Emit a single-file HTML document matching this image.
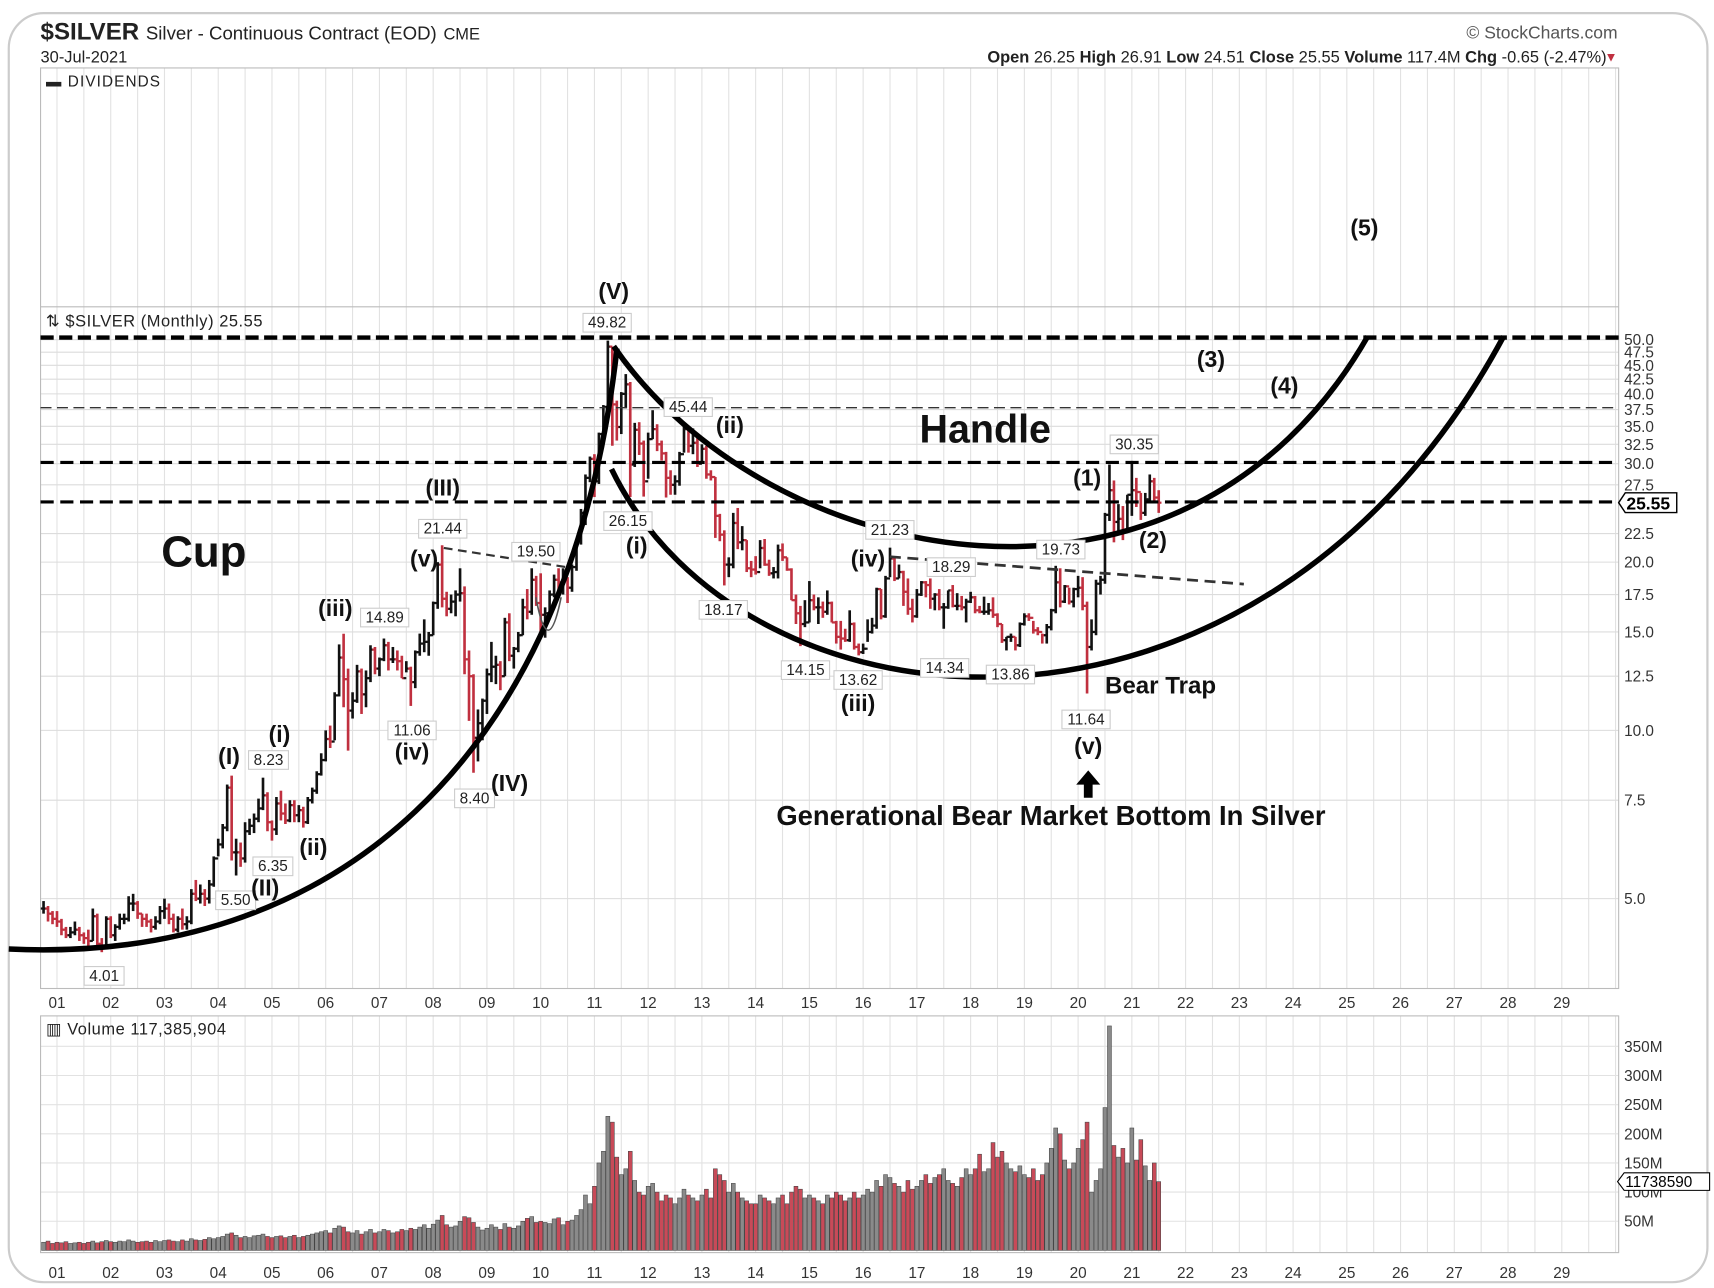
<!DOCTYPE html>
<html><head><meta charset="utf-8">
<style>
html,body{margin:0;padding:0;background:#fff;}
svg{display:block;font-family:"Liberation Sans","DejaVu Sans",sans-serif;}
</style></head>
<body>
<svg id="chart" width="1714" height="1288" viewBox="0 0 1564 1175.3" preserveAspectRatio="none" xmlns="http://www.w3.org/2000/svg">
<rect x="8" y="12" width="1550" height="1158" rx="32" fill="#fff" stroke="#ccc" stroke-width="2"/>
<g id="grid"></g>
<g id="panels">
 <rect x="37" y="62" width="1440" height="840" fill="none" stroke="#bbb" stroke-width="1"/>
 <line x1="37" y1="280" x2="1477" y2="280" stroke="#bbb"/>
 <rect x="37" y="927" width="1440" height="216" fill="none" stroke="#bbb" stroke-width="1"/>
</g>
<g>
 <text x="37" y="36" font-size="22" font-weight="bold" fill="#222">$SILVER <tspan font-size="17" font-weight="normal">Silver - Continuous Contract (EOD)</tspan> <tspan font-size="15" font-weight="normal">CME</tspan></text>
 <text x="37" y="57" font-size="15" fill="#222">30-Jul-2021</text>
 <text x="1476" y="35" font-size="16" fill="#555" text-anchor="end">© StockCharts.com</text>
 <text x="1466" y="57" font-size="15" fill="#222" text-anchor="end"><tspan font-weight="bold">Open</tspan> 26.25 <tspan font-weight="bold">High</tspan> 26.91 <tspan font-weight="bold">Low</tspan> 24.51 <tspan font-weight="bold">Close</tspan> 25.55 <tspan font-weight="bold">Volume</tspan> 117.4M <tspan font-weight="bold">Chg</tspan> -0.65 (-2.47%)</text>
 <text x="1476" y="56" font-size="12" fill="#c03040" text-anchor="end">▼</text>
 <text x="42" y="79" font-size="14" fill="#222" letter-spacing="1">▬ DIVIDENDS</text>
 <text x="42" y="298" font-size="15" fill="#222" letter-spacing="0.5">⇅ $SILVER (Monthly) 25.55</text>
 <text x="42" y="944" font-size="15" fill="#222" letter-spacing="0.5">▥ Volume 117,385,904</text>
</g>
<g id="vol"></g>
<g id="price"></g>
<g id="axes"></g>
<g id="annot">
 <line x1="37" y1="308" x2="1477" y2="308" stroke="#000" stroke-width="4" stroke-dasharray="12,5"/>
 <line x1="37" y1="372" x2="1477" y2="372" stroke="#333" stroke-width="1.3" stroke-dasharray="10,5"/>
 <line x1="37" y1="422" x2="1477" y2="422" stroke="#000" stroke-width="2.8" stroke-dasharray="12,6"/>
 <line x1="37" y1="458" x2="1477" y2="458" stroke="#000" stroke-width="2.8" stroke-dasharray="12,6"/>
 <line x1="405" y1="500" x2="520" y2="518" stroke="#333" stroke-width="2" stroke-dasharray="8,5"/>
 <line x1="812" y1="508" x2="1135" y2="533" stroke="#333" stroke-width="2.5" stroke-dasharray="10,6"/>
 <path d="M8,866 C300,880 520,700 563,318" fill="none" stroke="#000" stroke-width="5"/>
 <path d="M560,316 C700,520 1080,600 1248,307" fill="none" stroke="#000" stroke-width="5"/>
 <path d="M558,428 C680,680 1150,720 1372,307" fill="none" stroke="#000" stroke-width="5"/>
 <path d="M489,545 Q500,605 512,545" fill="none" stroke="#555" stroke-width="1.5"/>
 <path d="M993,703 L1004,716 L997,716 L997,728 L989,728 L989,716 L982,716 Z" fill="#000"/>
</g>
<script>
// ---- data (monthly, Oct 2000 .. Jul 2021) ----
const startYear = 2000.75;
const closes = [4.80,4.70,4.60,
4.55,4.40,4.30,4.35,4.40,4.30,4.25,4.20,4.65,4.15,4.10,4.60,
4.30,4.45,4.60,4.60,4.90,4.90,4.70,4.60,4.55,4.45,4.55,4.75,
4.80,4.60,4.40,4.60,4.50,4.55,5.10,5.00,5.10,5.00,5.30,5.90,
6.25,6.70,7.90,6.05,6.05,5.90,6.60,6.75,6.95,7.25,7.65,6.85,
6.65,7.40,7.10,6.90,7.35,7.05,7.20,6.85,7.50,7.80,8.35,8.85,
9.65,9.55,11.55,13.50,12.35,10.85,11.30,12.75,11.60,12.40,13.95,12.90,
13.40,14.20,13.40,13.40,13.30,12.40,12.90,12.20,13.80,14.30,14.40,14.80,
16.90,19.80,17.20,16.50,17.00,17.50,17.60,13.40,12.50,9.70,10.30,11.30,
12.60,13.00,13.10,12.50,15.60,13.60,14.00,14.80,16.60,16.30,18.60,16.90,
16.10,16.20,17.50,18.60,18.40,18.70,18.00,19.60,21.80,24.50,28.30,30.60,
27.90,33.90,37.90,48.60,38.30,34.90,40.00,41.60,29.90,34.50,32.60,27.90,
33.20,34.60,32.50,31.30,28.30,27.50,27.90,31.20,34.60,32.30,32.70,30.00,
31.90,28.70,28.40,24.20,22.40,19.80,19.80,23.50,21.70,21.90,19.50,19.40,
19.20,21.20,19.80,19.10,19.20,21.00,20.40,19.40,17.10,16.20,15.50,15.60,
17.10,16.60,16.60,16.30,16.90,15.60,14.70,14.60,14.50,15.50,14.10,13.80,
14.00,15.00,15.40,17.90,16.00,18.70,20.30,18.70,19.20,17.70,16.50,16.00,
17.50,18.40,18.20,17.20,17.50,16.60,16.60,17.80,16.70,16.70,16.60,17.00,
17.30,16.40,16.30,16.30,16.40,16.10,15.50,14.50,14.70,14.70,14.20,15.50,
16.00,15.90,15.10,15.00,14.80,15.30,16.40,18.40,17.00,18.10,17.00,17.90,
18.00,16.70,14.10,15.00,18.30,18.60,24.30,26.90,23.60,23.90,22.60,26.40,
26.90,26.70,24.50,25.90,27.90,26.10,25.55];
const highs = [4.95,4.85,4.75,
4.75,4.60,4.45,4.45,4.55,4.45,4.35,4.40,4.80,4.70,4.25,4.65,
4.65,4.50,4.70,4.70,5.05,5.10,4.95,4.70,4.70,4.60,4.65,4.85,
5.00,4.90,4.70,4.65,4.80,4.65,5.20,5.40,5.30,5.20,5.40,5.95,
6.40,6.80,8.00,8.30,6.40,6.30,6.85,6.95,7.10,7.55,8.23,7.75,
6.90,7.60,7.80,7.40,7.50,7.50,7.35,7.30,7.60,7.90,8.45,9.10,
10.00,10.20,11.70,14.25,14.89,12.90,11.70,13.10,12.90,12.80,14.20,14.10,
13.50,14.60,14.40,14.10,13.90,13.60,13.30,13.00,13.90,14.90,15.80,15.00,
17.00,20.00,21.44,17.70,17.50,17.80,19.50,18.10,13.90,12.60,10.90,11.40,
12.90,14.40,13.60,13.30,15.90,16.20,14.10,15.00,17.20,17.90,19.50,18.90,
19.10,16.60,17.80,19.00,19.50,19.50,18.80,19.80,22.00,24.90,28.70,30.90,
31.20,34.10,38.20,49.82,48.60,38.90,40.30,43.40,42.00,35.50,35.60,33.00,
34.10,37.40,35.30,33.00,31.50,29.20,28.60,31.50,35.44,34.80,34.70,33.80,
32.50,32.30,29.20,28.40,24.40,22.80,20.40,24.50,25.00,23.20,21.90,20.10,
20.50,21.90,22.00,20.20,19.60,21.50,21.60,20.40,19.50,17.50,16.70,17.10,
18.50,17.50,17.30,17.00,17.80,17.00,15.70,15.70,15.20,16.40,15.60,14.30,
14.30,15.80,15.90,18.00,17.90,18.90,21.23,20.40,19.80,19.30,18.70,17.20,
17.90,18.50,18.50,18.70,17.60,17.90,16.90,17.80,18.20,17.60,17.40,17.20,
17.70,17.40,16.70,17.35,16.90,17.30,16.20,15.50,14.70,14.90,14.70,15.60,
16.20,16.20,15.70,15.30,14.90,15.50,16.50,19.70,19.50,18.20,18.00,18.00,
18.90,18.80,17.00,15.80,18.60,18.90,24.50,29.90,28.00,25.40,25.20,26.40,
30.35,28.30,26.60,26.60,28.70,28.30,26.90];
const lows = [4.70,4.55,4.50,
4.45,4.30,4.25,4.25,4.30,4.20,4.15,4.10,4.20,4.10,4.01,4.10,
4.25,4.20,4.40,4.50,4.55,4.75,4.60,4.45,4.45,4.35,4.40,4.50,
4.60,4.50,4.35,4.35,4.40,4.40,4.50,4.95,4.90,4.85,4.90,5.25,
5.95,6.15,6.60,5.85,5.50,5.70,5.80,6.50,6.55,6.85,7.20,6.60,
6.35,6.50,6.90,6.80,6.85,6.85,6.85,6.70,6.80,7.40,7.70,8.30,
8.80,9.30,9.60,11.50,11.00,9.20,10.50,11.20,10.70,11.00,12.20,12.60,
12.50,13.30,12.80,13.20,12.80,12.40,12.70,11.06,11.90,13.60,13.80,13.60,
14.80,16.50,16.60,16.00,16.20,16.00,17.00,12.60,10.40,8.40,8.80,9.60,
10.70,12.20,12.10,11.80,12.50,13.30,12.90,13.80,14.80,15.80,16.10,16.70,
14.80,14.65,16.20,17.30,17.30,17.50,16.90,17.70,19.30,21.50,23.30,27.80,
26.15,27.60,33.60,37.60,32.30,33.00,33.90,37.70,26.15,29.60,31.10,26.20,
28.20,33.20,31.60,30.40,26.10,26.40,26.40,27.40,31.40,31.40,31.20,29.60,
30.20,28.20,28.00,22.10,21.80,18.17,18.80,19.50,21.10,21.00,19.20,18.80,
19.00,19.50,19.70,18.90,18.70,18.70,20.10,19.30,17.10,15.50,14.15,15.30,
15.60,16.40,15.50,15.90,16.10,15.60,14.30,13.95,14.40,14.40,13.95,13.62,
13.70,14.40,14.90,15.20,15.80,15.90,18.80,18.50,18.70,16.70,16.10,15.60,
15.90,17.40,17.30,16.50,16.40,16.40,15.20,16.50,16.60,16.40,16.40,15.60,
16.90,16.20,16.20,16.10,16.10,15.90,15.30,14.34,13.90,14.40,13.90,14.10,
15.40,15.70,14.90,14.80,14.30,14.30,15.10,16.20,16.60,16.90,16.80,16.60,
17.30,16.40,11.64,13.90,14.80,17.50,18.30,23.70,21.70,22.70,21.90,22.80,
24.20,25.10,23.80,24.20,25.60,25.50,24.50];
const volumesM = [14,16,12,
14,13,15,12,13,14,12,14,16,13,15,17,
15,14,16,15,18,16,14,15,16,14,17,15,
17,18,16,15,18,16,20,18,17,19,22,20,
22,24,28,30,26,22,24,22,25,26,28,24,
22,24,25,22,24,26,22,24,26,28,30,32,
34,30,38,42,40,32,30,34,28,32,36,30,
32,36,34,30,32,36,34,38,36,40,44,38,
45,52,60,44,40,42,50,58,56,48,40,35,
38,44,40,36,46,40,38,42,50,55,58,48,
50,48,46,54,56,44,50,52,60,70,95,80,
110,150,170,230,220,160,130,140,170,120,100,95,
110,115,100,85,95,90,80,90,105,95,90,85,
95,105,90,140,130,120,100,115,100,90,85,80,
80,95,90,85,80,90,95,80,100,110,105,90,
95,90,85,80,95,90,100,95,85,90,100,90,
95,105,100,120,110,130,125,115,110,100,120,105,
110,120,130,115,125,130,140,120,115,110,125,140,
130,140,165,135,140,185,160,170,150,140,135,145,
130,125,140,120,130,150,175,210,200,155,140,150,
175,190,220,100,120,140,245,385,180,160,175,150,
210,155,190,145,120,150,118];
const yearLabels = ["01","02","03","04","05","06","07","08","09","10","11","12","13","14","15","16","17","18","19","20","21","22","23","24","25","26","27","28","29"];
const priceTicks = [50.0,47.5,45.0,42.5,40.0,37.5,35.0,32.5,30.0,27.5,22.5,20.0,17.5,15.0,12.5,10.0,7.5,5.0];
const volTicks = [350,300,250,200,150,100,50];
const lastClose = 25.55;
const lastVolume = "11738590";

// ---- axis functions ----
const NS = "http://www.w3.org/2000/svg";
const X0 = 52, YEARW = 49.04;
function xYear(t){ return X0 + (t - 2001) * YEARW; }
function xIdx(i){ return xYear(startYear + i / 12); }
function yPrice(p){ return 310 + 510 * Math.log10(50 / p); }
function yVol(v){ return 1141 - 0.532 * v; }
function mk(tag, attrs, parent){
  const el = document.createElementNS(NS, tag);
  for (const k in attrs) el.setAttribute(k, attrs[k]);
  parent.appendChild(el);
  return el;
}
const grid = document.getElementById('grid');
const axes = document.getElementById('axes');
const priceG = document.getElementById('price');
const volG = document.getElementById('vol');
const annot = document.getElementById('annot');

// vertical grid (half-year)
for (let k = -1; k <= 58; k++) {
  const x = X0 + k * YEARW / 2;
  if (x < 38 || x > 1476) continue;
  let l = mk('line', {x1:x, y1:62, x2:x, y2:902, stroke:'#e2e2e2', 'stroke-width':1}, grid);
  
  
  l = mk('line', {x1:x, y1:927, x2:x, y2:1143, stroke:'#e2e2e2', 'stroke-width':1}, grid);
  
  
}
// price gridlines + ticks
priceTicks.forEach(p => {
  const y = yPrice(p);
  const l = mk('line', {x1:37, y1:y, x2:1477, y2:y, stroke:'#dcdcdc', 'stroke-width':1}, grid);
  
  
  const t = mk('text', {x:1482, y:y + 5, 'font-size':14, fill:'#333'}, axes);
  t.textContent = p.toFixed(1);
  
  
});
// current price marker
{
  const y = yPrice(lastClose);
  const g = mk('g', {}, axes);
  
  
  mk('path', {d:`M1477,${y} L1483,${y-9} L1530,${y-9} L1530,${y+9} L1483,${y+9} Z`, fill:'#fff', stroke:'#000', 'stroke-width':1.3}, g);
  const t = mk('text', {x:1484, y:y + 6, 'font-size':16, 'font-weight':'bold', fill:'#000'}, g);
  t.textContent = lastClose.toFixed(2);
}
// volume ticks
volTicks.forEach(v => {
  const y = yVol(v);
  const l = mk('line', {x1:37, y1:y, x2:1477, y2:y, stroke:'#e2e2e2', 'stroke-width':1}, grid);
  
  
  const t = mk('text', {x:1482, y:y + 5, 'font-size':14, fill:'#333'}, axes);
  t.textContent = v + 'M';
  
  
});
{
  const y = yVol(volumesM[volumesM.length - 1]);
  const g = mk('g', {}, axes);
  
  
  mk('path', {d:`M1476,${y} L1482,${y-8} L1560,${y-8} L1560,${y+8} L1482,${y+8} Z`, fill:'#fff', stroke:'#000', 'stroke-width':1}, g);
  const t = mk('text', {x:1483, y:y + 5, 'font-size':14, fill:'#000'}, g);
  t.textContent = lastVolume;
}
// x labels
yearLabels.forEach((lab, i) => {
  const x = xYear(2001 + i);
  [914, 1160].forEach(yy => {
    const t = mk('text', {x:x, y:yy + 6, 'font-size':14, fill:'#333', 'text-anchor':'middle'}, axes);
    t.textContent = lab;
    
    
  });
});
// price bars
closes.forEach((c, i) => {
  const prev = i > 0 ? closes[i - 1] : c;
  const col = c < prev ? '#c0303f' : '#111';
  const x = xIdx(i);
  const g = mk('g', {}, priceG);
  
  
  mk('line', {x1:x, y1:yPrice(highs[i]), x2:x, y2:yPrice(lows[i]), stroke:col, 'stroke-width':2.4}, g);
  mk('line', {x1:x - 2.5, y1:yPrice(prev), x2:x, y2:yPrice(prev), stroke:col, 'stroke-width':2}, g);
  mk('line', {x1:x, y1:yPrice(c), x2:x + 2.5, y2:yPrice(c), stroke:col, 'stroke-width':2}, g);
});
// volume bars
volumesM.forEach((v, i) => {
  const prev = i > 0 ? closes[i - 1] : closes[i];
  const up = closes[i] >= prev;
  const x = xIdx(i);
  const r = mk('rect', {x:x - 1.8, y:yVol(v), width:3.6, height:1141 - yVol(v), fill: up ? '#8a8a8a' : '#c84a58', stroke:'#444', 'stroke-width':0.5}, volG);
  
  
});
// annotations
function boxLabel(txt, x, y){
  const g = mk('g', {}, annot);
  
  
  const w = txt.length * 7.6 + 6;
  mk('rect', {x:x - w/2, y:y - 13, width:w, height:17, fill:'#fff', stroke:'#ccc', 'stroke-width':1}, g);
  const t = mk('text', {x:x, y:y, 'font-size':14, fill:'#222', 'text-anchor':'middle'}, g);
  t.textContent = txt;
}
function waveLabel(txt, x, y, size){
  const t = mk('text', {x:x, y:y, 'font-size':size || 21, 'font-weight':'bold', fill:'#111', 'text-anchor':'middle'}, annot);
  t.textContent = txt;
  
  
}
[["49.82",554,299],["21.44",404,487],["19.50",489,508],["14.89",351,568],["11.06",376,671],["8.23",245,698],["6.35",249,795],["5.50",215,826],["8.40",433,733],["4.01",95,895],
 ["26.15",573,480],["45.44",628,376],["18.17",660,561],["14.15",735,616],["13.62",783,625],["14.34",862,614],["13.86",922,620],["21.23",812,488],["18.29",868,522],["19.73",968,506],["30.35",1035,410],["11.64",991,661]].forEach(a => boxLabel(a[0], a[1], a[2]));
[["(V)",560,273],["(5)",1245,215],["(3)",1105,335],["(4)",1172,359],["(III)",404,452],["(v)",387,517],["(iii)",306,562],["(iv)",376,693],["(I)",209,697],["(i)",255,677],["(ii)",286,780],["(II)",242,817],["(IV)",465,722],
 ["(i)",581,505],["(ii)",666,395],["(iii)",783,649],["(iv)",792,517],["(1)",992,443],["(2)",1052,500],["(v)",993,688]].forEach(a => waveLabel(a[0], a[1], a[2]));
waveLabel("Handle", 899, 404, 36);
waveLabel("Cup", 186, 517, 40);
waveLabel("Bear Trap", 1059, 633, 22);
waveLabel("Generational Bear Market Bottom In Silver", 959, 753, 25);
</script>
</svg>
</body></html>
